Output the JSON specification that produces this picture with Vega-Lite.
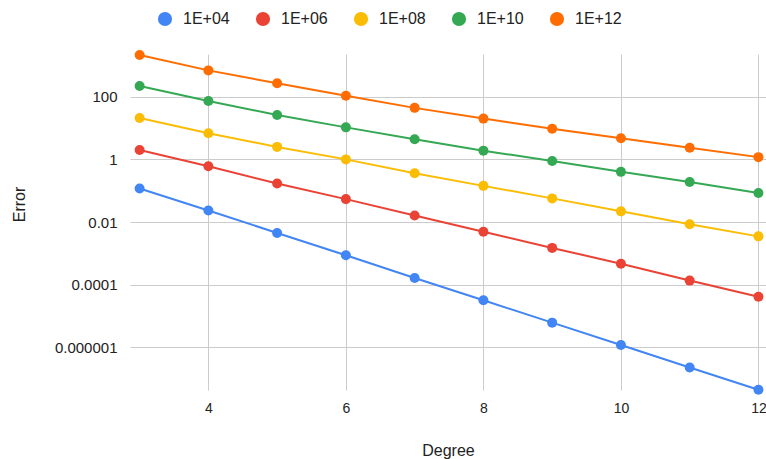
{
  "$schema": "https://vega.github.io/schema/vega-lite/v6.json",
  "autosize": {"type": "none"},
  "width": 636,
  "height": 336,
  "padding": {"left": 130, "top": 54, "right": 0, "bottom": 69},
  "background": "white",
  "config": {
    "view": {"stroke": null},
    "font": "Liberation Sans",
    "axis": {"labelFont": "Liberation Sans", "titleFont": "Liberation Sans", "labelFontSize": 15, "titleFontSize": 16, "labelColor": "#222222", "titleColor": "#222222", "titleFontWeight": "normal", "gridColor": "#cccccc", "gridWidth": 1, "domain": false, "ticks": false}
  },
  "data": {
    "values": [
      {"Degree": 3, "Error": 0.118, "Series": "1E+04"},
      {"Degree": 4, "Error": 0.0235, "Series": "1E+04"},
      {"Degree": 5, "Error": 0.0045, "Series": "1E+04"},
      {"Degree": 6, "Error": 0.00087, "Series": "1E+04"},
      {"Degree": 7, "Error": 0.000165, "Series": "1E+04"},
      {"Degree": 8, "Error": 0.000032, "Series": "1E+04"},
      {"Degree": 9, "Error": 0.0000062, "Series": "1E+04"},
      {"Degree": 10, "Error": 0.0000012, "Series": "1E+04"},
      {"Degree": 11, "Error": 0.00000023, "Series": "1E+04"},
      {"Degree": 12, "Error": 0.000000045, "Series": "1E+04"},
      {"Degree": 3, "Error": 2.0, "Series": "1E+06"},
      {"Degree": 4, "Error": 0.6, "Series": "1E+06"},
      {"Degree": 5, "Error": 0.17, "Series": "1E+06"},
      {"Degree": 6, "Error": 0.054, "Series": "1E+06"},
      {"Degree": 7, "Error": 0.0163, "Series": "1E+06"},
      {"Degree": 8, "Error": 0.0049, "Series": "1E+06"},
      {"Degree": 9, "Error": 0.0015, "Series": "1E+06"},
      {"Degree": 10, "Error": 0.00047, "Series": "1E+06"},
      {"Degree": 11, "Error": 0.000136, "Series": "1E+06"},
      {"Degree": 12, "Error": 0.0000414, "Series": "1E+06"},
      {"Degree": 3, "Error": 21, "Series": "1E+08"},
      {"Degree": 4, "Error": 6.8, "Series": "1E+08"},
      {"Degree": 5, "Error": 2.5, "Series": "1E+08"},
      {"Degree": 6, "Error": 1.0, "Series": "1E+08"},
      {"Degree": 7, "Error": 0.36, "Series": "1E+08"},
      {"Degree": 8, "Error": 0.143, "Series": "1E+08"},
      {"Degree": 9, "Error": 0.057, "Series": "1E+08"},
      {"Degree": 10, "Error": 0.022, "Series": "1E+08"},
      {"Degree": 11, "Error": 0.0085, "Series": "1E+08"},
      {"Degree": 12, "Error": 0.0035, "Series": "1E+08"},
      {"Degree": 3, "Error": 219, "Series": "1E+10"},
      {"Degree": 4, "Error": 73, "Series": "1E+10"},
      {"Degree": 5, "Error": 26, "Series": "1E+10"},
      {"Degree": 6, "Error": 10.5, "Series": "1E+10"},
      {"Degree": 7, "Error": 4.4, "Series": "1E+10"},
      {"Degree": 8, "Error": 1.9, "Series": "1E+10"},
      {"Degree": 9, "Error": 0.89, "Series": "1E+10"},
      {"Degree": 10, "Error": 0.40, "Series": "1E+10"},
      {"Degree": 11, "Error": 0.19, "Series": "1E+10"},
      {"Degree": 12, "Error": 0.085, "Series": "1E+10"},
      {"Degree": 3, "Error": 2150, "Series": "1E+12"},
      {"Degree": 4, "Error": 690, "Series": "1E+12"},
      {"Degree": 5, "Error": 267, "Series": "1E+12"},
      {"Degree": 6, "Error": 107, "Series": "1E+12"},
      {"Degree": 7, "Error": 44, "Series": "1E+12"},
      {"Degree": 8, "Error": 20, "Series": "1E+12"},
      {"Degree": 9, "Error": 9.5, "Series": "1E+12"},
      {"Degree": 10, "Error": 4.7, "Series": "1E+12"},
      {"Degree": 11, "Error": 2.35, "Series": "1E+12"},
      {"Degree": 12, "Error": 1.18, "Series": "1E+12"}
    ]
  },
  "encoding": {
    "x": {
      "field": "Degree", "type": "quantitative",
      "scale": {"domain": [2.86, 12.11], "nice": false, "zero": false},
      "axis": {"values": [4, 6, 8, 10, 12], "labelFontSize": 14, "labelPadding": 11, "title": "Degree", "titleY": 65, "titleBaseline": "alphabetic", "labelFlush": false}
    },
    "y": {
      "field": "Error", "type": "quantitative",
      "scale": {"type": "log", "domain": [4.4e-8, 2300], "nice": false},
      "axis": {"values": [100, 1, 0.01, 0.0001, 0.000001], "format": "~g", "labelPadding": 13, "title": "Error", "titleX": -111, "titleY": 150, "titleAngle": -90, "titleBaseline": "middle", "titleAlign": "center"}
    },
    "color": {
      "field": "Series", "type": "nominal",
      "scale": {"domain": ["1E+04", "1E+06", "1E+08", "1E+10", "1E+12"], "range": ["#4285F4", "#EA4335", "#FBBC04", "#34A853", "#FF6D01"]},
      "legend": {"title": null, "orient": "none", "direction": "horizontal", "legendX": 27, "legendY": -43, "symbolType": "circle", "symbolSize": 200, "symbolStrokeWidth": 0, "labelFontSize": 16, "labelFont": "Liberation Sans", "labelColor": "#222222", "labelOffset": 10, "columnPadding": 25, "padding": 0}
    }
  },
  "layer": [
    {"mark": {"type": "line", "strokeWidth": 2}},
    {"mark": {"type": "point", "filled": true, "opacity": 1, "size": 100, "shape": "circle"}}
  ]
}
